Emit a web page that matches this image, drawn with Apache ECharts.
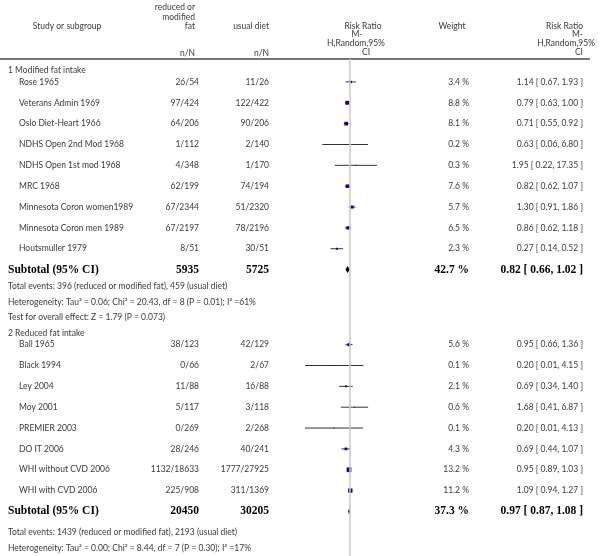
<!DOCTYPE html>
<html>
<head>
<meta charset="utf-8">
<script src="https://cdn.jsdelivr.net/npm/echarts@6/dist/echarts.min.js"></script>
<style>
html, body { margin: 0; padding: 0; background: #fff; }
#main { width: 600px; height: 556px; }
</style>
</head>
<body>
<div id="main"></div>
<script>
// ---- data ----
var studies1 = ['Rose 1965', 'Veterans Admin 1969', 'Oslo Diet-Heart 1966', 'NDHS Open 2nd Mod 1968',
    'NDHS Open 1st mod 1968', 'MRC 1968', 'Minnesota Coron women1989', 'Minnesota Coron men 1989', 'Houtsmuller 1979'];
var exp1 = ['26/54', '97/424', '64/206', '1/112', '4/348', '62/199', '67/2344', '67/2197', '8/51'];
var ctl1 = ['11/26', '122/422', '90/206', '2/140', '1/170', '74/194', '51/2320', '78/2196', '30/51'];
var weight1 = [3.4, 8.8, 8.1, 0.2, 0.3, 7.6, 5.7, 6.5, 2.3];
var rr1 = [1.14, 0.79, 0.71, 0.63, 1.95, 0.82, 1.30, 0.86, 0.27];
var lo1 = [0.67, 0.63, 0.55, 0.06, 0.22, 0.62, 0.91, 0.62, 0.14];
var hi1 = [1.93, 1.00, 0.92, 6.80, 17.35, 1.07, 1.86, 1.18, 0.52];
var sub1 = { exp: '5935', ctl: '5725', weight: 42.7, rr: 0.82, lo: 0.66, hi: 1.02 };
var notes1 = ['Total events: 396 (reduced or modified fat), 459 (usual diet)',
    'Heterogeneity: Tau\u00b2 = 0.06; Chi\u00b2 = 20.43, df = 8 (P = 0.01); I\u00b2 =61%',
    'Test for overall effect: Z = 1.79 (P = 0.073)'];

var studies2 = ['Ball 1965', 'Black 1994', 'Ley 2004', 'Moy 2001', 'PREMIER 2003', 'DO IT 2006',
    'WHI without CVD 2006', 'WHI with CVD 2006'];
var exp2 = ['38/123', '0/66', '11/88', '5/117', '0/269', '28/246', '1132/18633', '225/908'];
var ctl2 = ['42/129', '2/67', '16/88', '3/118', '2/268', '40/241', '1777/27925', '311/1369'];
var weight2 = [5.6, 0.1, 2.1, 0.6, 0.1, 4.3, 13.2, 11.2];
var rr2 = [0.95, 0.20, 0.69, 1.68, 0.20, 0.69, 0.95, 1.09];
var lo2 = [0.66, 0.01, 0.34, 0.41, 0.01, 0.44, 0.89, 0.94];
var hi2 = [1.36, 4.15, 1.40, 6.87, 4.13, 1.07, 1.03, 1.27];
var sub2 = { exp: '20450', ctl: '30205', weight: 37.3, rr: 0.97, lo: 0.87, hi: 1.08 };
var notes2 = ['Total events: 1439 (reduced or modified fat), 2193 (usual diet)',
    'Heterogeneity: Tau\u00b2 = 0.00; Chi\u00b2 = 8.44, df = 7 (P = 0.30); I\u00b2 =17%'];

var axisMin = 0.01, axisMax = 100;

// ---- layout ----
var TOP = 59, ROW_PX = 20.85;
var COLS = { section: 8, name: 19, exp: 199, ctl: 269, weight: 469, rr: 583 };
var TXT = '#3a3a3a';
var FONT = '8.5px Lato';
var BOLD = 'bold 11.5px "Liberation Serif"';

function fmt(v) { return v.toFixed(2); }
function rrText(r, l, h) { return fmt(r) + ' [ ' + fmt(l) + ', ' + fmt(h) + ' ]'; }

// build rows (y in row units)
var rows = [];
var y = 0;
function addSection(title, names, ex, ct, w, rr, lo, hi, sub, notes, noteGap) {
    y += 0.55;
    rows.push({ type: 'head', y: y, text: title });
    y += 0.55;
    for (var i = 0; i < names.length; i++) {
        rows.push({ type: 'study', y: y, name: names[i], exp: ex[i], ctl: ct[i], w: w[i], rr: rr[i], lo: lo[i], hi: hi[i] });
        y += 1;
    }
    rows.push({ type: 'sub', y: y, exp: sub.exp, ctl: sub.ctl, w: sub.weight, rr: sub.rr, lo: sub.lo, hi: sub.hi });
    y += noteGap;
    notes.forEach(function (n, k) {
        if (k > 0) y += 0.75;
        rows.push({ type: 'note', y: y, text: n });
    });
    y += 0.2;
}
addSection('1 Modified fat intake', studies1, exp1, ctl1, weight1, rr1, lo1, hi1, sub1, notes1, 0.8);
addSection('2 Reduced fat intake', studies2, exp2, ctl2, weight2, rr2, lo2, hi2, sub2, notes2, 1.0);

var studyRows = rows.filter(function (r) { return r.type === 'study'; });
var subRows = rows.filter(function (r) { return r.type === 'sub'; });

function txt(s, x, yy, align, font, fill) {
    return {
        type: 'text',
        style: {
            text: s, x: x, y: yy, align: align, textAlign: align,
            verticalAlign: 'middle', textVerticalAlign: 'middle',
            font: font || FONT, fill: fill || TXT
        }
    };
}

function renderRow(params, api) {
    var r = rows[params.dataIndex];
    var py = api.coord([1, r.y])[1];
    var kids = [];
    if (r.type === 'head' || r.type === 'note') {
        kids.push(txt(r.text, COLS.section, py, 'left'));
    } else if (r.type === 'study') {
        kids.push(txt(r.name, COLS.name, py, 'left'));
        kids.push(txt(r.exp, COLS.exp, py, 'right'));
        kids.push(txt(r.ctl, COLS.ctl, py, 'right'));
        kids.push(txt(r.w.toFixed(1) + ' %', COLS.weight, py, 'right'));
        kids.push(txt(rrText(r.rr, r.lo, r.hi), COLS.rr, py, 'right'));
    } else if (r.type === 'sub') {
        kids.push(txt('Subtotal (95% CI)', COLS.section, py, 'left', BOLD, '#000'));
        kids.push(txt(r.exp, COLS.exp, py, 'right', BOLD, '#000'));
        kids.push(txt(r.ctl, COLS.ctl, py, 'right', BOLD, '#000'));
        kids.push(txt(r.w.toFixed(1) + ' %', COLS.weight, py, 'right', BOLD, '#000'));
        kids.push(txt(rrText(r.rr, r.lo, r.hi), COLS.rr, py, 'right', BOLD, '#000'));
    }
    return { type: 'group', children: kids };
}

function renderCI(params, api) {
    var yv = api.value(3);
    var a = api.coord([api.value(0), yv]);
    var b = api.coord([api.value(1), yv]);
    var c = api.coord([api.value(2), yv]);
    var s = Math.max(1, Math.sqrt(api.value(4)) * 1.3);
    return {
        type: 'group',
        children: [
            { type: 'line', shape: { x1: a[0], y1: a[1], x2: b[0], y2: b[1] }, style: { stroke: '#333', lineWidth: 1 } },
            { type: 'rect', shape: { x: c[0] - s / 2, y: c[1] - s / 2, width: s, height: s }, style: { fill: '#0c0c78' } }
        ]
    };
}

function renderDiamond(params, api) {
    var yv = api.value(3);
    var a = api.coord([api.value(0), yv]);
    var b = api.coord([api.value(1), yv]);
    var c = api.coord([api.value(2), yv]);
    var h = 3.5;
    return {
        type: 'polygon',
        shape: { points: [[a[0], a[1]], [c[0], c[1] - h], [b[0], b[1]], [c[0], c[1] + h]] },
        style: { fill: '#000' }
    };
}

// header texts
var headers = [
    txt('Study or subgroup', 67, 26, 'center'),
    txt('reduced or', 195, 7, 'right'),
    txt('modified', 195, 17, 'right'),
    txt('fat', 195, 26, 'right'),
    txt('n/N', 195, 53, 'right'),
    txt('usual diet', 269, 26, 'right'),
    txt('n/N', 269, 53, 'right'),
    txt('Risk Ratio', 363, 26, 'center'),
    txt('M-', 357, 34, 'center'),
    txt('H,Random,95%', 356, 43, 'center'),
    txt('CI', 366, 52, 'center'),
    txt('Weight', 452, 26, 'center'),
    txt('Risk Ratio', 583, 26, 'right'),
    txt('M-', 583, 34, 'right'),
    txt('H,Random,95%', 595, 43, 'right'),
    txt('CI', 583, 52, 'right'),
    { type: 'line', shape: { x1: 0, y1: TOP, x2: 590, y2: TOP }, style: { stroke: '#777', lineWidth: 2 } }
];

var chart = echarts.init(document.getElementById('main'));
var option = {
    animation: false,
    backgroundColor: '#fff',
    grid: { left: 305, width: 89, top: TOP, bottom: 0 },
    xAxis: { type: 'log', logBase: 10, min: axisMin, max: axisMax, show: false },
    yAxis: { type: 'value', inverse: true, min: 0, max: (556 - TOP) / ROW_PX, show: false },
    graphic: headers,
    series: [
        {
            type: 'custom',
            renderItem: renderCI,
            encode: { x: [0, 1, 2], y: 3 },
            data: studyRows.map(function (r) { return [r.lo, r.hi, r.rr, r.y, r.w]; }),
            markLine: {
                silent: true,
                symbol: 'none',
                label: { show: false },
                lineStyle: { color: '#c8c8c8', width: 1.5, type: 'solid' },
                data: [{ xAxis: 1 }]
            },
            z: 3
        },
        {
            type: 'custom',
            renderItem: renderDiamond,
            encode: { x: [0, 1, 2], y: 3 },
            data: subRows.map(function (r) { return [r.lo, r.hi, r.rr, r.y]; }),
            z: 3
        },
        {
            type: 'custom',
            renderItem: renderRow,
            encode: { x: 0, y: 1 },
            data: rows.map(function (r) { return [1, r.y]; }),
            z: 4
        }
    ]
};
chart.setOption(option);
</script>
</body>
</html>
